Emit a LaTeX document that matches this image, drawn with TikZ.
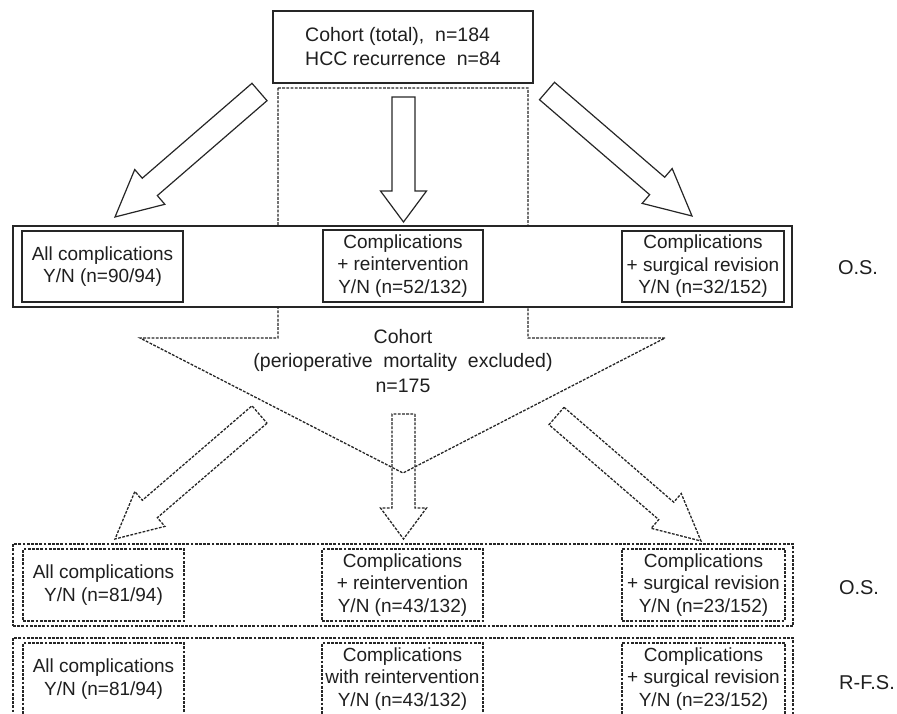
\documentclass[tikz,border=0pt]{standalone}
\usepackage{fontspec}
\setmainfont{Liberation Sans}
\usetikzlibrary{calc}
\newcommand\blockarr[4]{%
  \coordinate (ba-h) at ($(#3)!#4!(#2)$);
  \draw[#1] ($(#2)!11.5pt!90:(#3)$) -- ($(ba-h)!11.5pt!90:(#3)$) -- ($(ba-h)!23pt!90:(#3)$) -- (#3)
     -- ($(ba-h)!23pt!-90:(#3)$) -- ($(ba-h)!11.5pt!-90:(#3)$) -- ($(#2)!11.5pt!-90:(#3)$) -- cycle;
}
\begin{document}
\begin{tikzpicture}[x=1pt,y=-1pt,
  ln/.style={draw=black!85, line width=1.2pt},
  dsh/.style={draw=black!85, line width=1.3pt, dash pattern=on 2.8pt off 1.4pt},
  txt/.style={font=\fontsize{19}{22.5}\selectfont, align=center, inner sep=0pt, text=black!88},
  sbox/.style={ln, fill=white, inner sep=0pt},
  dbox/.style={dsh, fill=white, inner sep=0pt},
  lab/.style={font=\fontsize{20}{24}\selectfont, text=black!88, inner sep=0pt}
]
\useasboundingbox (0,0) rectangle (897,714);
\clip (0,0) rectangle (897,714);

% top box
\node[sbox, minimum width=260pt, minimum height=72pt, align=left,
      font=\fontsize{19.5}{24}\selectfont, text=black!88] (top) at (403,47)
  {Cohort (total),\ \ n=184\\HCC recurrence\ \ n=84};

% dashed outline (cohort without perioperative mortality)
\draw[dsh] (278,88) -- (528,88) -- (528,338) -- (665,338) -- (403,473) -- (140,338) -- (278,338) -- cycle;
\node[txt, font=\fontsize{19.5}{24.5}\selectfont] (cohort2) at (403,361)
  {Cohort\\(perioperative\ \ mortality\ \ excluded)\\n=175};

% top arrows
\coordinate (t1) at (259.5,92);  \coordinate (p1) at (115,217);
\coordinate (t2) at (403.5,97);  \coordinate (p2) at (403.5,222);
\coordinate (t3) at (547,91);    \coordinate (p3) at (692,216);
\blockarr{ln}{t1}{p1}{46pt}
\blockarr{ln}{t2}{p2}{31pt}
\blockarr{ln}{t3}{p3}{46pt}

% row 1
\node[sbox, minimum width=779pt, minimum height=81pt] (row1) at (402.5,266.5) {};
\node[sbox, txt, minimum width=161pt, minimum height=71pt] (r1a) at (102.5,266.5)
  {All complications\\Y/N (n=90/94)};
\node[sbox, txt, minimum width=160pt, minimum height=72pt] (r1b) at (403,266)
  {Complications\\+ reintervention\\Y/N (n=52/132)};
\node[sbox, txt, minimum width=162pt, minimum height=71pt] (r1c) at (703,266.5)
  {Complications\\+ surgical revision\\Y/N (n=32/152)};
\node[lab] (os1) at (858,268) {O.S.};

% bottom arrows
\coordinate (t4) at (259.5,414.5); \coordinate (p4) at (115,539);
\coordinate (t5) at (403.5,414);   \coordinate (p5) at (403.5,539);
\coordinate (t6) at (556.5,416);   \coordinate (p6) at (701,541);
\blockarr{dsh}{t4}{p4}{46pt}
\blockarr{dsh}{t5}{p5}{31pt}
\blockarr{dsh}{t6}{p6}{46pt}

% row 2
\node[dbox, minimum width=780pt, minimum height=82pt] (row2) at (403,585) {};
\node[dbox, txt, minimum width=161pt, minimum height=72pt] (r2a) at (103.5,585)
  {All complications\\Y/N (n=81/94)};
\node[dbox, txt, minimum width=161pt, minimum height=72pt] (r2b) at (402.5,585)
  {Complications\\+ reintervention\\Y/N (n=43/132)};
\node[dbox, txt, minimum width=163pt, minimum height=72pt] (r2c) at (703.5,585)
  {Complications\\+ surgical revision\\Y/N (n=23/152)};
\node[lab] (os2) at (859,588) {O.S.};

% row 3
\node[dbox, minimum width=780pt, minimum height=82pt] (row3) at (403,679) {};
\node[dbox, txt, minimum width=161pt, minimum height=72pt] (r3a) at (103.5,679)
  {All complications\\Y/N (n=81/94)};
\node[dbox, txt, minimum width=161pt, minimum height=72pt] (r3b) at (402.5,679)
  {Complications\\with reintervention\\Y/N (n=43/132)};
\node[dbox, txt, minimum width=163pt, minimum height=72pt] (r3c) at (703.5,679)
  {Complications\\+ surgical revision\\Y/N (n=23/152)};
\node[lab] (rfs) at (867,683) {R-F.S.};
\end{tikzpicture}
\end{document}
